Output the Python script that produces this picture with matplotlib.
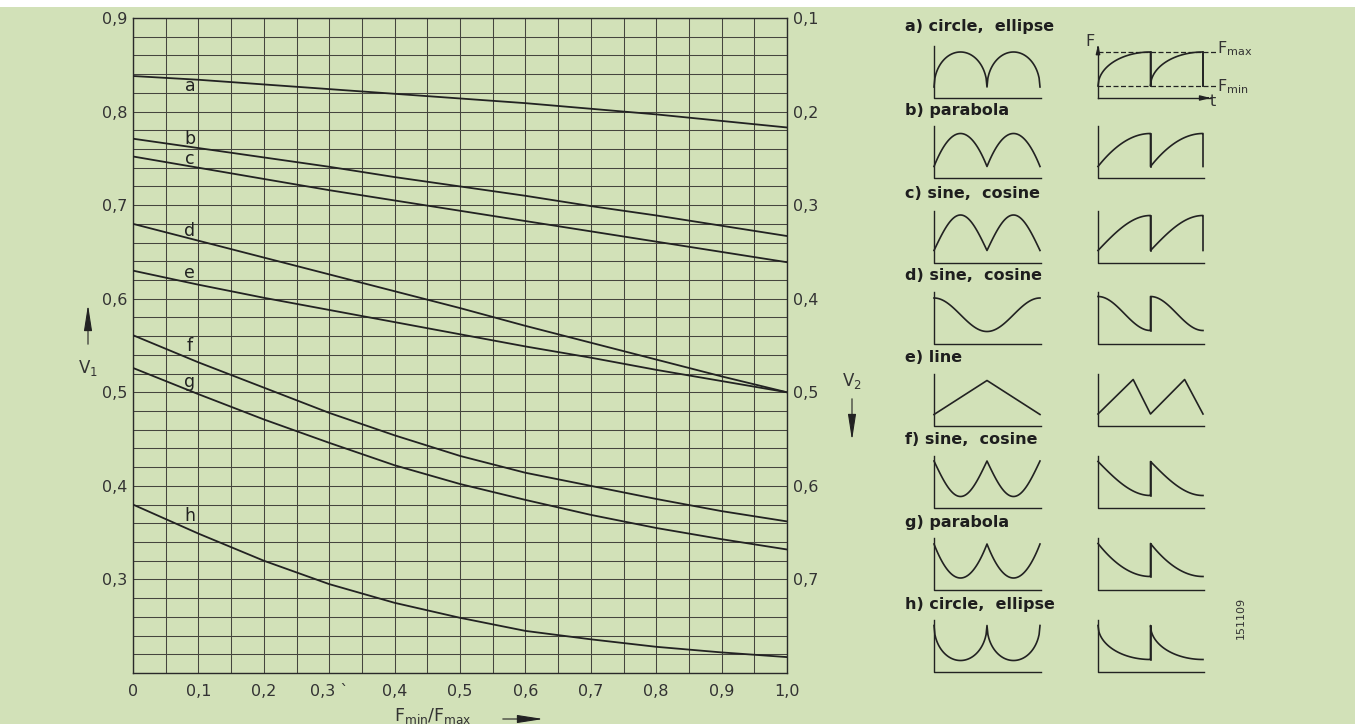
import numpy as np
import matplotlib
matplotlib.use('Agg')
import matplotlib.pyplot as plt
from matplotlib.patches import Rectangle

plt.rcParams['font.family'] = ['DejaVu Sans']
plt.rcParams['mathtext.fontset'] = 'dejavusans'

W, H = 1361, 724
BG = '#d2e1b8'
INK = '#222222'
TXT = '#333333'
GRID = '#45453e'

# F_min/F_max ratio and the V1 values
ratio = [0.0, 0.1, 0.2, 0.3, 0.4, 0.5, 0.6, 0.7, 0.8, 0.9, 1.0]
curve_a = [0.838, 0.834, 0.829, 0.824, 0.819, 0.814, 0.809, 0.803, 0.797, 0.790, 0.783]
curve_b = [0.771, 0.761, 0.751, 0.741, 0.730, 0.720, 0.710, 0.699, 0.689, 0.678, 0.667]
curve_c = [0.752, 0.740, 0.728, 0.716, 0.705, 0.694, 0.683, 0.672, 0.661, 0.650, 0.639]
curve_d = [0.680, 0.662, 0.644, 0.626, 0.608, 0.590, 0.571, 0.553, 0.535, 0.517, 0.500]
curve_e = [0.630, 0.615, 0.601, 0.588, 0.575, 0.562, 0.549, 0.537, 0.524, 0.512, 0.500]
curve_f = [0.561, 0.532, 0.505, 0.478, 0.454, 0.432, 0.414, 0.400, 0.386, 0.373, 0.362]
curve_g = [0.526, 0.498, 0.471, 0.446, 0.422, 0.402, 0.385, 0.369, 0.355, 0.343, 0.332]
curve_h = [0.380, 0.349, 0.320, 0.295, 0.275, 0.259, 0.245, 0.236, 0.228, 0.222, 0.217]
curves = [curve_a, curve_b, curve_c, curve_d, curve_e, curve_f, curve_g, curve_h]
curve_names = ['a', 'b', 'c', 'd', 'e', 'f', 'g', 'h']
label_v = [0.827, 0.771, 0.749, 0.672, 0.627, 0.549, 0.511, 0.368]

x_ticks = [0.0, 0.1, 0.2, 0.3, 0.4, 0.5, 0.6, 0.7, 0.8, 0.9, 1.0]
x_tick_labels = ['0', '0,1', '0,2', '0,3 `', '0,4', '0,5', '0,6', '0,7', '0,8', '0,9', '1,0']
v1_ticks = [0.3, 0.4, 0.5, 0.6, 0.7, 0.8, 0.9]
v1_tick_labels = ['0,3', '0,4', '0,5', '0,6', '0,7', '0,8', '0,9']
v2_ticks = [0.1, 0.2, 0.3, 0.4, 0.5, 0.6, 0.7]
v2_tick_labels = ['0,1', '0,2', '0,3', '0,4', '0,5', '0,6', '0,7']

shape_titles = ['a) circle,  ellipse', 'b) parabola', 'c) sine,  cosine', 'd) sine,  cosine',
                'e) line', 'f) sine,  cosine', 'g) parabola', 'h) circle,  ellipse']
title_y = [27, 111, 194, 276, 358, 439, 522, 604]
baseline_y = [98, 178, 263, 344, 426, 508, 590, 672]


def fig_box(x0, y_top, x1, y_bot):
    return [x0 / W, 1 - y_bot / H, (x1 - x0) / W, (y_bot - y_top) / H]


def fp(x, y):
    return (x, H - y)


def arrow(fig, start, end):
    fig.add_artist(matplotlib.patches.FancyArrowPatch(
        fp(*start), fp(*end), transform=None,
        arrowstyle='-|>,head_length=1.6,head_width=0.25', mutation_scale=10,
        color=INK, lw=0.8))


# pictogram shapes (cam motion laws), x in 0..2, y in 0..1
def left_shape(kind, lo, hi):
    t = np.linspace(0, 1, 60)
    if kind == 'arch_circle':
        y = np.sqrt(np.clip(1 - (2 * t - 1) ** 2, 0, 1))
    elif kind == 'arch_parab':
        y = 1 - (2 * t - 1) ** 2
    elif kind == 'arch_sine':
        y = np.sin(np.pi * t)
    elif kind == 'valley_sine':
        y = 1 - np.sin(np.pi * t)
    elif kind == 'valley_parab':
        y = (2 * t - 1) ** 2
    elif kind == 'valley_circle':
        y = 1 - np.sqrt(np.clip(1 - (2 * t - 1) ** 2, 0, 1))
    elif kind == 'cosine':
        x = np.linspace(0, 2, 120)
        return x, lo + (hi - lo) * (1 + np.cos(np.pi * x)) / 2
    elif kind == 'triangle':
        return np.array([0, 1, 2]), np.array([lo, hi, lo])
    y = lo + (hi - lo) * y
    return np.concatenate([t, t + 1]), np.concatenate([y, y])


def right_shape(kind, lo, hi):
    t = np.linspace(0, 1, 60)
    if kind == 'zigzag':
        return np.array([0, 0.67, 1, 1.65, 2]), np.array([lo, hi, lo, hi, lo])
    if kind == 'rise_circle':
        y = np.sqrt(np.clip(1 - (1 - t) ** 2, 0, 1))
    elif kind == 'rise_parab':
        y = 1 - (1 - t) ** 2
    elif kind == 'rise_sine':
        y = np.sin(np.pi * t / 2)
    elif kind == 'fall_cos':
        y = (1 + np.cos(np.pi * t)) / 2
    elif kind == 'fall_sine':
        y = 1 - np.sin(np.pi * t / 2)
    elif kind == 'fall_parab':
        y = (1 - t) ** 2
    elif kind == 'fall_circle':
        y = 1 - np.sqrt(np.clip(1 - (1 - t) ** 2, 0, 1))
    y = lo + (hi - lo) * y
    xs = np.concatenate([t, t + 1, [2]])
    if kind.startswith('rise'):
        ys = np.concatenate([y, y, [lo]])
    else:
        xs = xs[:-1]
        ys = np.concatenate([y, y])
    return xs, ys


left_kinds = ['arch_circle', 'arch_parab', 'arch_sine', 'cosine', 'triangle',
              'valley_sine', 'valley_parab', 'valley_circle']
right_kinds = ['rise_circle', 'rise_parab', 'rise_sine', 'fall_cos', 'zigzag',
               'fall_sine', 'fall_parab', 'fall_circle']
left_levels = [(0.22, 0.92), (0.23, 0.89), (0.25, 0.96), (0.25, 0.92), (0.23, 0.91),
               (0.23, 0.94), (0.24, 0.92), (0.23, 0.93)]
right_levels = [(0.24, 0.92), (0.23, 0.89), (0.25, 0.95), (0.27, 0.95), (0.24, 0.93),
                (0.25, 0.93), (0.27, 0.93), (0.25, 0.93)]


fig = plt.figure(figsize=(W / 100, H / 100), dpi=100, facecolor='white')
fig.patches.append(Rectangle((0, 0), 1355 / W, (H - 7) / H, transform=fig.transFigure,
                             facecolor=BG, edgecolor='none', zorder=-10))

ax = fig.add_axes(fig_box(133, 18, 787, 673))
ax.set_facecolor('none')
ax.set_xlim(0, 1)
ax.set_ylim(0.2, 0.9)
ax.set_xticks(x_ticks)
ax.set_xticklabels(x_tick_labels)
ax.set_xticks(np.arange(0, 1.0001, 0.05), minor=True)
ax.set_yticks(v1_ticks)
ax.set_yticklabels(v1_tick_labels)
ax.set_yticks(np.arange(0.2, 0.9001, 0.02), minor=True)
ax.grid(which='both', color=GRID, lw=0.75)
ax.tick_params(which='both', length=0, labelsize=11.5, labelcolor=TXT)
ax.tick_params(axis='x', pad=8)
ax.tick_params(axis='y', pad=4)
for s in ax.spines.values():
    s.set_color('#2a2a2a')
    s.set_linewidth(1.0)

for vals, name, lv in zip(curves, curve_names, label_v):
    ax.plot(ratio, vals, color=INK, lw=1.3, zorder=3)
    ax.text(0.087, lv, name, fontsize=12.5, color=INK, ha='center', va='center', zorder=4)

ax2 = ax.twinx()
ax2.set_ylim(0.8, 0.1)
ax2.set_yticks(v2_ticks)
ax2.set_yticklabels(v2_tick_labels)
ax2.tick_params(length=0, labelsize=11.5, labelcolor=TXT, pad=4)
for s in ax2.spines.values():
    s.set_visible(False)

# axis names with arrows
fig.text(88 / W, 1 - 368 / H, r'V$_1$', fontsize=12, color=TXT, ha='center', va='center')
arrow(fig, (88, 347), (88, 302))
fig.text(852 / W, 1 - 381 / H, r'V$_2$', fontsize=12, color=TXT, ha='center', va='center')
arrow(fig, (852, 396), (852, 443))
fig.text(433 / W, 1 - 716 / H, r'F$_{\mathrm{min}}$/F$_{\mathrm{max}}$', fontsize=12.5,
         color=TXT, ha='center', va='center')
arrow(fig, (500, 719), (546, 719))

# motion law pictograms
for i in range(8):
    fig.text(905 / W, 1 - title_y[i] / H, shape_titles[i], fontsize=11.5, fontweight='bold',
             color='#1e1e1e', ha='left', va='center')
    base = baseline_y[i]

    axl = fig.add_axes(fig_box(934, base - 50, 1040, base))
    axl.set_xlim(0, 2)
    axl.set_ylim(0, 1)
    axl.axis('off')
    axl.plot([0, 0, 2.02], [1.05, 0, 0], color=INK, lw=1.0, clip_on=False)
    xs, ys = left_shape(left_kinds[i], *left_levels[i])
    axl.plot(xs, ys, color=INK, lw=1.2, clip_on=False)

    axr = fig.add_axes(fig_box(1098, base - 50, 1203, base))
    axr.set_xlim(0, 2)
    axr.set_ylim(0, 1)
    axr.axis('off')
    xs, ys = right_shape(right_kinds[i], *right_levels[i])
    axr.plot(xs, ys, color=INK, lw=1.2, clip_on=False)
    if i == 0:
        lo, hi = right_levels[0]
        axr.plot([0, 0], [0, 1.0], color=INK, lw=1.0, clip_on=False)
        axr.plot([0, 2.15], [0, 0], color=INK, lw=1.0, clip_on=False)
        axr.annotate('', xy=(2.2, 0), xytext=(2.0, 0), annotation_clip=False,
                     arrowprops=dict(arrowstyle='-|>,head_length=0.6,head_width=0.15',
                                     color=INK, lw=1.0))
        axr.annotate('', xy=(0, 1.12), xytext=(0, 0.95), annotation_clip=False,
                     arrowprops=dict(arrowstyle='-|>,head_length=0.5,head_width=0.12',
                                     color=INK, lw=1.0))
        axr.plot([0, 2.25], [hi, hi], color=INK, lw=0.9, ls=(0, (4, 2)), clip_on=False)
        axr.plot([0, 2.25], [lo, lo], color=INK, lw=0.9, ls=(0, (4, 2)), clip_on=False)
        axr.plot([1, 1], [lo, hi], color=INK, lw=1.2, clip_on=False)
        axr.plot([2, 2], [lo, hi], color=INK, lw=1.2, clip_on=False)
    else:
        axr.plot([0, 0, 2.02], [1.05, 0, 0], color=INK, lw=1.0, clip_on=False)
        if right_kinds[i] != 'zigzag':
            lo, hi = right_levels[i]
            axr.plot([1, 1], [lo, hi], color=INK, lw=1.2, clip_on=False)

fig.text(1090 / W, 1 - 42 / H, 'F', fontsize=11.5, color=TXT, ha='center', va='center')
fig.text(1213 / W, 1 - 101 / H, 't', fontsize=11.5, color=TXT, ha='center', va='center')
fig.text(1217 / W, 1 - 49 / H, r'F$_{\mathrm{max}}$', fontsize=11.5, color=TXT,
         ha='left', va='center')
fig.text(1217 / W, 1 - 87 / H, r'F$_{\mathrm{min}}$', fontsize=11.5, color=TXT,
         ha='left', va='center')
fig.text(1241 / W, 1 - 618 / H, '151109', fontsize=8, color=TXT, rotation=90,
         ha='center', va='center')

fig.savefig('out.png', dpi=100, facecolor=fig.get_facecolor())
